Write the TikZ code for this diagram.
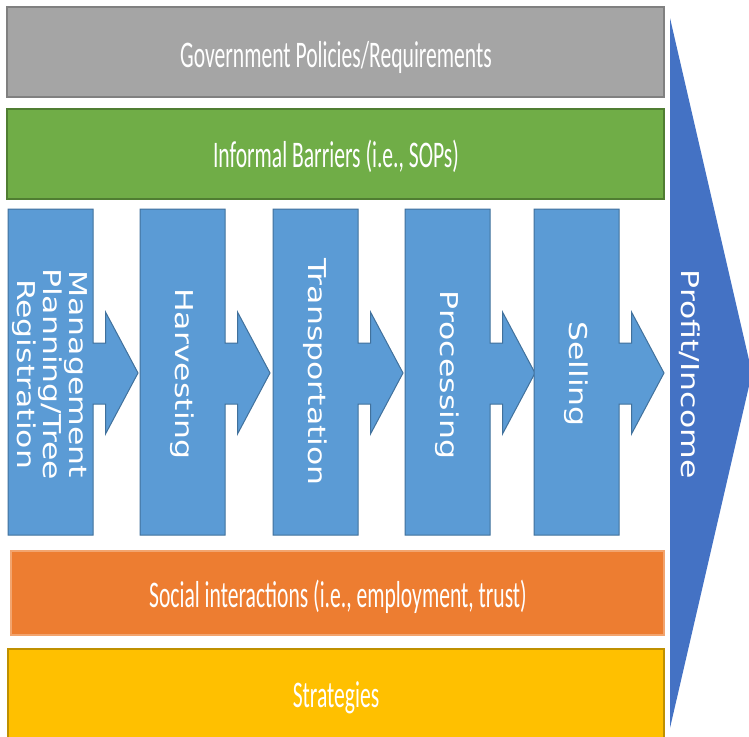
\documentclass[tikz,border=0pt]{standalone}
\usepackage{fontspec}
\usepackage{graphicx}
\newfontfamily\bandfont{Carlito}
\newfontfamily\stepfont{DejaVu Sans}
\definecolor{govfill}{HTML}{A5A5A5}
\definecolor{govline}{HTML}{808080}
\definecolor{grnfill}{HTML}{70AD47}
\definecolor{grnline}{HTML}{507E32}
\definecolor{blufill}{HTML}{5B9BD5}
\definecolor{bluline}{HTML}{41719C}
\definecolor{orafill}{HTML}{ED7D31}
\definecolor{oraline}{HTML}{F2A46E}
\definecolor{yelfill}{HTML}{FFC000}
\definecolor{yelline}{HTML}{BF9000}
\definecolor{chevfill}{HTML}{4472C4}
\begin{document}
\begin{tikzpicture}[x=1pt,y=-1pt,
  band/.style={draw, line width=1.2pt, inner sep=0pt, outer sep=0pt},
  bandtext/.style={text=white, inner sep=0pt, anchor=base,
    font=\bandfont\fontsize{21.6}{26}\selectfont},
  steparrow/.style={fill=blufill, draw=bluline, line width=1pt, line join=miter},
  steptext/.style={text=white, inner sep=0pt, rotate=-90,
    font=\stepfont\fontsize{31.5}{32.5}\selectfont}
]
\useasboundingbox (0,0) rectangle (749,736);
\clip (0,0) rectangle (749,736);
\fill[white] (0,0) rectangle (749,736);

% big chevron
\fill[chevfill] (670,18) -- (752,373) -- (670,728) -- cycle;
\node[steptext] (profit) at (690,374) {\scalebox{1}[0.78]{Profit/Income}};

% horizontal bands
\node[band, fill=govfill, draw=govline, minimum width=657pt, minimum height=90pt] (gov) at (335.5,52) {};
\node[bandtext] (govt) at (336,67) {\scalebox{1}[1.74]{Government Policies/Requirements}};

\node[band, fill=grnfill, draw=grnline, minimum width=657pt, minimum height=90pt] (inf) at (335.5,154) {};
\node[bandtext] (inft) at (336,167) {\scalebox{1}[1.74]{Informal Barriers (i.e., SOPs)}};

\node[band, fill=orafill, draw=oraline, minimum width=653pt, minimum height=84pt] (soc) at (337.5,593) {};
\node[bandtext] (soct) at (338,607) {\scalebox{1}[1.74]{Social interactions (i.e., employment, trust)}};

\node[band, fill=yelfill, draw=yelline, minimum width=656pt, minimum height=94pt] (str) at (336,696) {};
\node[bandtext] (strt) at (336,707) {\scalebox{1}[1.74]{Strategies}};

% process steps
\foreach \L in {8,140,273,405,534} {
  \draw[steparrow] (\L,209) -- ({\L+85},209) -- ({\L+85},343) -- ({\L+97.5},343)
    -- ({\L+97.5},312) -- ({\L+130},373) -- ({\L+97.5},434) -- ({\L+97.5},404)
    -- ({\L+85},404) -- ({\L+85},535) -- (\L,535) -- cycle;
}
\node[steptext] (s1) at (48.5,374) {\scalebox{1}[0.78]{\begin{tabular}{@{}c@{}}Management\\Planning/Tree\\Registration\end{tabular}}};
\node[steptext] (s2) at (182.5,374) {\scalebox{1}[0.78]{Harvesting}};
\node[steptext] (s3) at (315.5,372) {\scalebox{1}[0.78]{Transportation}};
\node[steptext] (s4) at (447.5,375) {\scalebox{1}[0.78]{Processing}};
\node[steptext] (s5) at (576.5,374) {\scalebox{1}[0.78]{Selling}};
\end{tikzpicture}
\end{document}
